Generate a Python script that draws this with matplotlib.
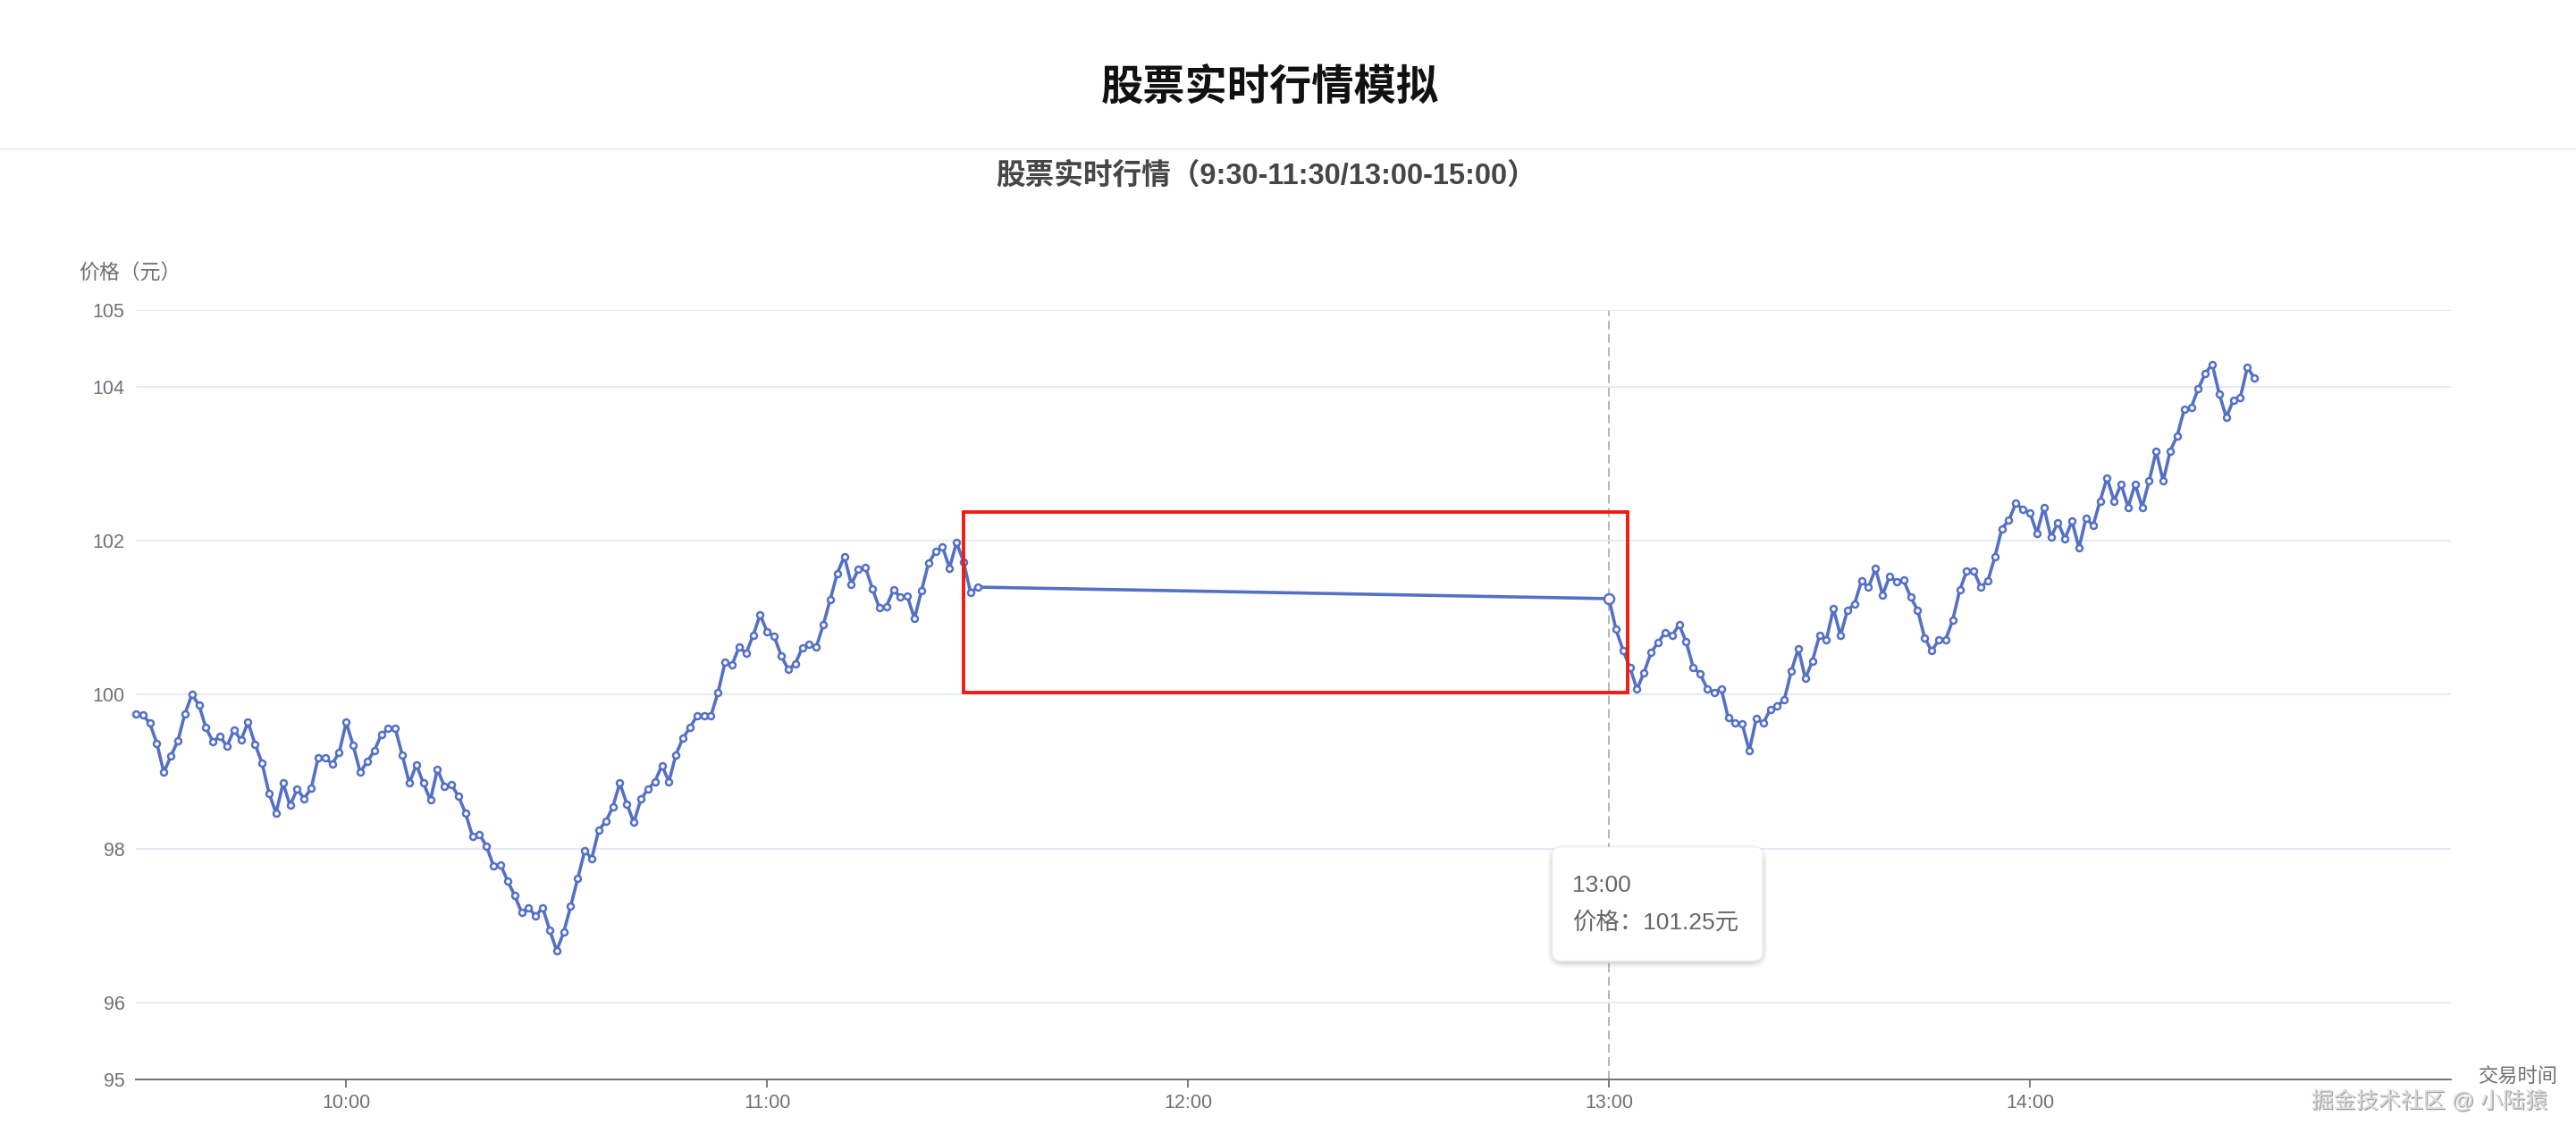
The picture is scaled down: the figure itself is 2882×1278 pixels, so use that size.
import matplotlib
matplotlib.use('Agg')
import matplotlib.pyplot as plt
import matplotlib.patheffects as pe
from matplotlib.patches import FancyBboxPatch, Rectangle
import numpy as np

plt.rcParams['font.family'] = ['Liberation Sans', 'Noto Sans CJK SC', 'DejaVu Sans']

# 文本
page_title = '股票实时行情模拟'
chart_title = '股票实时行情（9:30-11:30/13:00-15:00）'
y_name = '价格（元）'
x_name = '交易时间'
watermark = '掘金技术社区 @ 小陆猿'

# 时间轴范围与交易时段起点
axis_start, axis_end = '09:30', '15:00'
morning_start = '09:30'
afternoon_start = '13:00'

# 每分钟价格（上午 9:30-11:30）
morning_prices = [
    99.75, 99.74, 99.63, 99.37, 98.99, 99.20, 99.40, 99.75, 100.00, 99.87,
    99.57, 99.39, 99.46, 99.33, 99.54, 99.41, 99.64, 99.36, 99.11, 98.72,
    98.46, 98.85, 98.56, 98.77, 98.65, 98.78, 99.18, 99.18, 99.10, 99.25,
    99.64, 99.34, 98.99, 99.13, 99.27, 99.48, 99.56, 99.56, 99.21, 98.85,
    99.09, 98.85, 98.63, 99.03, 98.81, 98.83, 98.68, 98.46, 98.16, 98.18,
    98.03, 97.77, 97.79, 97.58, 97.39, 97.17, 97.23, 97.12, 97.23, 96.94,
    96.67, 96.91, 97.25, 97.61, 97.97, 97.87, 98.24, 98.35, 98.54, 98.85,
    98.58, 98.34, 98.64, 98.77, 98.87, 99.08, 98.87, 99.22, 99.44, 99.57,
    99.73, 99.73, 99.73, 100.03, 100.42, 100.39, 100.62, 100.54, 100.77, 101.04,
    100.82, 100.76, 100.51, 100.33, 100.40, 100.61, 100.66, 100.62, 100.91, 101.24,
    101.58, 101.80, 101.44, 101.63, 101.66, 101.38, 101.13, 101.15, 101.36, 101.27,
    101.28, 100.99, 101.35, 101.71, 101.86, 101.92, 101.65, 101.98, 101.73, 101.33,
    101.40,
]

# 每分钟价格（下午 13:00 起）
afternoon_prices = [
    101.25, 100.85, 100.58, 100.35, 100.07, 100.29, 100.55, 100.68, 100.81, 100.77,
    100.91, 100.69, 100.36, 100.27, 100.08, 100.03, 100.08, 99.70, 99.63, 99.62,
    99.27, 99.69, 99.63, 99.81, 99.85, 99.94, 100.31, 100.60, 100.21, 100.44,
    100.77, 100.72, 101.12, 100.77, 101.10, 101.18, 101.48, 101.40, 101.64, 101.30,
    101.54, 101.47, 101.49, 101.27, 101.10, 100.74, 100.57, 100.71, 100.72, 100.97,
    101.36, 101.61, 101.61, 101.40, 101.48, 101.79, 102.16, 102.27, 102.49, 102.41,
    102.37, 102.10, 102.44, 102.05, 102.24, 102.03, 102.26, 101.91, 102.30, 102.20,
    102.52, 102.82, 102.52, 102.74, 102.44, 102.74, 102.44, 102.78, 103.17, 102.78,
    103.17, 103.37, 103.71, 103.74, 103.98, 104.18, 104.30, 103.91, 103.61, 103.83,
    103.87, 104.26, 104.12,
]

x_tick_labels = ['10:00', '11:00', '12:00', '13:00', '14:00']
y_ticks = [95, 96, 98, 100, 102, 104, 105]
hover_time = '13:00'


def minutes(t):
    h, m = map(int, t.split(':'))
    return h * 60 + m


x_all = np.concatenate([
    minutes(morning_start) + np.arange(len(morning_prices)),
    minutes(afternoon_start) + np.arange(len(afternoon_prices)),
])
y_all = np.array(morning_prices + afternoon_prices)

line_color = '#5470c6'
axis_color = '#6E7079'
grid_color = '#E0E6F1'

fig = plt.figure(figsize=(28.82, 12.78), dpi=100)
fig.patch.set_facecolor('white')

# 页面标题与分隔线
fig.text(0.4931, 0.9225, page_title, ha='center', va='center',
         fontsize=34, fontweight='bold', color='#111111')
fig.add_artist(plt.Line2D([0, 1], [0.8693, 0.8693], color='#eeeeee', lw=1.5))
fig.text(0.4915, 0.8455, chart_title, ha='center', va='center',
         fontsize=23.5, fontweight='bold', color='#464646')

ax = fig.add_axes([0.0527, 0.0551, 0.8987, 0.6731])
ax.set_xlim(minutes(axis_start), minutes(axis_end))
ax.set_ylim(min(y_ticks), max(y_ticks))

for s in ['top', 'right', 'left']:
    ax.spines[s].set_visible(False)
ax.spines['bottom'].set_color(axis_color)
ax.spines['bottom'].set_linewidth(1.4)
ax.spines['bottom'].set_zorder(4)

ax.set_yticks(y_ticks)
ax.set_yticklabels([str(v) for v in y_ticks])
ax.grid(axis='y', color=grid_color, lw=1.2, zorder=0)
ax.tick_params(axis='y', length=0, pad=9, labelsize=15.5, labelcolor=axis_color)

ax.set_xticks([minutes(t) for t in x_tick_labels])
ax.set_xticklabels(x_tick_labels)
ax.tick_params(axis='x', length=6.5, width=1.3, color=axis_color, pad=5,
               labelsize=15.5, labelcolor=axis_color)

# 坐标轴名称
ax.text(-0.0025, 1.049, y_name, transform=ax.transAxes, ha='center', va='center',
        fontsize=16.5, color=axis_color)
ax.annotate(x_name, xy=(1, 0), xycoords='axes fraction', xytext=(22, 1),
            textcoords='offset points', ha='left', va='center',
            fontsize=16, color=axis_color)

# 悬停指示线
hx = minutes(hover_time)
ax.axvline(hx, color='#b0b0b0', lw=1.3, linestyle=(0, (5.5, 2.8)), zorder=1)

# 价格折线
ax.plot(x_all, y_all, color=line_color, lw=2.6, marker='o', markersize=5.0,
        markerfacecolor='white', markeredgecolor=line_color, markeredgewidth=1.8,
        zorder=3, clip_on=False)

hover_price = y_all[np.where(x_all == hx)[0][0]]
ax.plot([hx], [hover_price], marker='o', markersize=8, markerfacecolor='white',
        markeredgecolor=line_color, markeredgewidth=1.8, zorder=5)

# 红色标注框
box_left, box_right = minutes('11:28') + 0.05, minutes('13:02') + 0.7
box_low, box_high = 100.03, 102.38
ax.add_patch(Rectangle((box_left, box_low), box_right - box_left, box_high - box_low,
                       fill=False, edgecolor='#f01b14', lw=2.8, zorder=6))

# 提示框
tx, ty, tw, th = 0.6027, 0.1588, 0.0815, 0.0994
for i, a in enumerate([0.03, 0.03, 0.03, 0.04]):
    grow = 0.004 - i * 0.001
    fig.add_artist(FancyBboxPatch((tx - grow * 0.45, ty - grow - 0.002), tw + grow * 0.9, th + grow * 2,
                                  boxstyle='round,pad=0,rounding_size=0.006',
                                  facecolor='black', edgecolor='none', alpha=a,
                                  transform=fig.transFigure, mutation_aspect=2.25))
fig.add_artist(FancyBboxPatch((tx, ty), tw, th, boxstyle='round,pad=0,rounding_size=0.003',
                              facecolor='white', edgecolor='#f2f2f2', lw=0.8,
                              transform=fig.transFigure, mutation_aspect=2.25))
fig.text(0.6103, 0.2246, hover_time, ha='left', va='center', fontsize=19, color='#666666')
fig.text(0.6103, 0.1925, f'价格：{hover_price:.2f}元', ha='left', va='center',
         fontsize=19, color='#666666')

# 水印
fig.text(0.9889, 0.036, watermark, ha='right', va='center', fontsize=18, color='#dcdcdc',
         path_effects=[pe.withSimplePatchShadow(offset=(1.0, -1.0), shadow_rgbFace='#666666', alpha=0.6)])

fig.savefig('out.png', dpi=100)
